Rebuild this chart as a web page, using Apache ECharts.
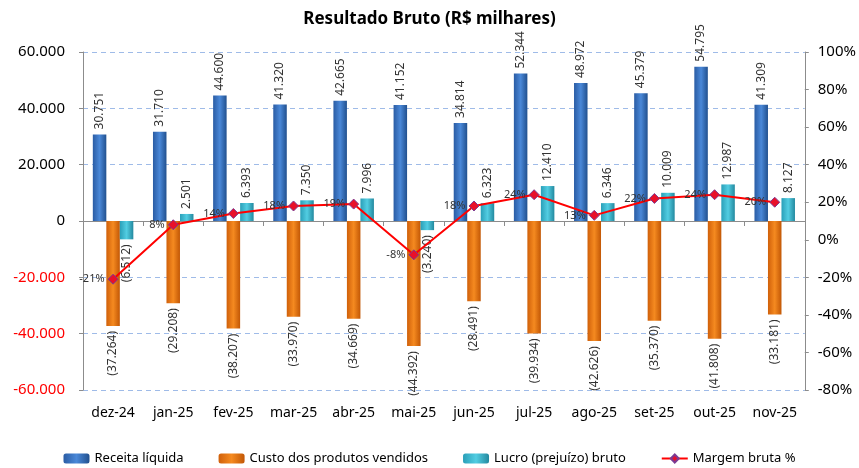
<!DOCTYPE html>
<html>
<head>
<meta charset="utf-8">
<script src="https://cdn.jsdelivr.net/npm/echarts@6/dist/echarts.min.js"></script>
<style>
  html, body { margin: 0; padding: 0; background: #fff; }
  #chart { width: 859px; height: 468px; }
</style>
</head>
<body>
<div id="chart"></div>
<script>
var months = ['dez-24', 'jan-25', 'fev-25', 'mar-25', 'abr-25', 'mai-25', 'jun-25', 'jul-25', 'ago-25', 'set-25', 'out-25', 'nov-25'];
var receita = [30751, 31710, 44600, 41320, 42665, 41152, 34814, 52344, 48972, 45379, 54795, 41309];
var custo = [-37264, -29208, -38207, -33970, -34669, -44392, -28491, -39934, -42626, -35370, -41808, -33181];
var lucro = [-6512, 2501, 6393, 7350, 7996, -3240, 6323, 12410, 6346, 10009, 12987, 8127];
var margem = [-21, 8, 14, 18, 19, -8, 18, 24, 13, 22, 24, 20];

var FONT = 'Noto Sans';

// 30751 -> "30.751", negativos entre parenteses
function fmt(v) {
    var s = Math.abs(v).toString().replace(/\B(?=(\d{3})+(?!\d))/g, '.');
    return v < 0 ? '(' + s + ')' : s;
}

function grad(a, b, c) {
    return new echarts.graphic.LinearGradient(0, 0, 1, 0, [
        { offset: 0, color: a },
        { offset: 0.5, color: b },
        { offset: 1, color: c }
    ]);
}

var upLabel = { show: true, position: 'top', rotate: 90, align: 'left', verticalAlign: 'middle', distance: 5 };
var downLabel = { show: true, position: 'bottom', rotate: 90, align: 'right', verticalAlign: 'middle', distance: 5 };

function barData(arr) {
    return arr.map(function (v) {
        return { value: v, label: v < 0 ? downLabel : upLabel };
    });
}

var labelStyle = { fontFamily: FONT, fontSize: 12, color: '#333', formatter: function (p) { return fmt(p.value); } };

var chart = echarts.init(document.getElementById('chart'));
chart.setOption({
    animation: false,
    textStyle: { fontFamily: FONT },
    title: {
        text: 'Resultado Bruto (R$ milhares)',
        left: 'center',
        top: 6,
        textStyle: { fontFamily: FONT, fontSize: 17, fontWeight: 'bold', color: '#000' }
    },
    legend: {
        bottom: -2,
        left: 'center',
        itemGap: 35,
        itemWidth: 26,
        itemHeight: 10,
        textStyle: { fontFamily: FONT, fontSize: 13, color: '#000' },
        data: ['Receita líquida', 'Custo dos produtos vendidos', 'Lucro (prejuízo) bruto', 'Margem bruta %']
    },
    grid: { left: 83, right: 54, top: 52, bottom: 78 },
    xAxis: [{
        type: 'category',
        data: months,
        axisLine: { onZero: true, onZeroAxisIndex: 0, lineStyle: { color: '#8c8c8c', width: 1 } },
        axisTick: { show: true, length: 5, lineStyle: { color: '#8c8c8c' } },
        axisLabel: { show: false }
    }, {
        type: 'category',
        data: months,
        position: 'bottom',
        axisLine: { show: false },
        axisTick: { show: false },
        axisLabel: { interval: 0, margin: 16, fontFamily: FONT, fontSize: 14, color: '#000' }
    }],
    yAxis: [{
        type: 'value',
        min: -60000,
        max: 60000,
        interval: 20000,
        axisLine: { show: true, lineStyle: { color: '#8c8c8c' } },
        axisTick: { show: true, length: 4, lineStyle: { color: '#8c8c8c' } },
        splitLine: { lineStyle: { color: '#9fbbe8', type: [5, 4], width: 1 } },
        axisLabel: {
            fontFamily: FONT, fontSize: 15, margin: 18,
            color: function (v) { return Number(v) < 0 ? '#ff0000' : '#000'; },
            formatter: function (v) { return v === 0 ? '0' : (v < 0 ? '-' : '') + fmt(Math.abs(v)); }
        }
    }, {
        type: 'value',
        min: -80,
        max: 100,
        interval: 20,
        position: 'right',
        axisLine: { show: true, lineStyle: { color: '#8c8c8c' } },
        axisTick: { show: true, length: 4, lineStyle: { color: '#8c8c8c' } },
        splitLine: { show: false },
        axisLabel: { fontFamily: FONT, fontSize: 15, color: '#000', margin: 13, formatter: '{value}%' }
    }],
    series: [{
        name: 'Receita líquida',
        type: 'bar',
        barWidth: 13.5,
        barGap: '0%',
        itemStyle: { color: grad('#2a5ca4', '#4a88d8', '#21508e') },
        label: labelStyle,
        data: barData(receita)
    }, {
        name: 'Custo dos produtos vendidos',
        type: 'bar',
        barWidth: 13.5,
        itemStyle: { color: grad('#d0600a', '#f58a20', '#c25705') },
        label: labelStyle,
        data: barData(custo)
    }, {
        name: 'Lucro (prejuízo) bruto',
        type: 'bar',
        barWidth: 13.5,
        itemStyle: { color: grad('#2a9fb8', '#52cde2', '#23899f') },
        label: labelStyle,
        data: barData(lucro)
    }, {
        name: 'Margem bruta %',
        type: 'line',
        yAxisIndex: 1,
        z: 5,
        symbol: 'diamond',
        symbolSize: 10,
        lineStyle: { color: '#ff0000', width: 2 },
        itemStyle: { color: '#e8102a', borderColor: '#7b3a93', borderWidth: 1 },
        label: {
            show: true, position: 'left', distance: 3,
            fontFamily: FONT, fontSize: 11, color: '#333',
            formatter: '{c}%'
        },
        data: margem
    }]
});
</script>
</body>
</html>
